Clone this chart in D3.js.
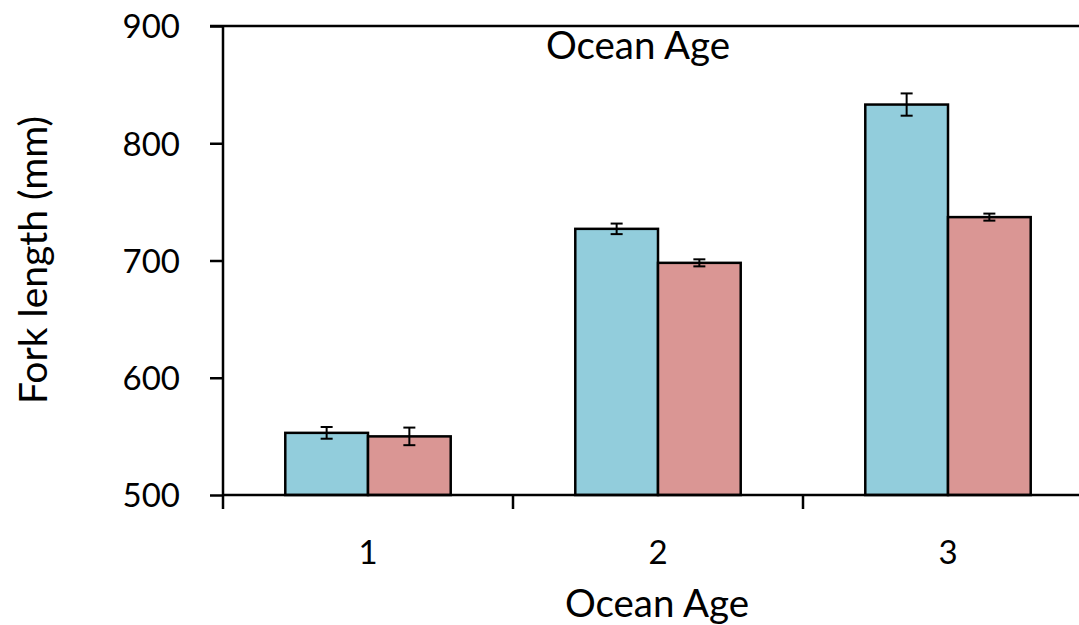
<!DOCTYPE html>
<html><head><meta charset="utf-8">
<script src="https://cdn.jsdelivr.net/npm/d3@7"></script>
<style>body{margin:0;background:#fff}svg{display:block}text{font-family:Lato,"Open Sans",sans-serif;fill:#000}</style>
</head><body>
<svg id="c" width="1079" height="625"></svg>
<script>
const categories = ["1","2","3"];
const seriesNames = ["A","B"];
const blueValues = [553, 727, 833];
const blueErrors = [5, 4.5, 9.5];
const redValues = [550, 698, 737];
const redErrors = [7.5, 3, 3];
const yTicks = [500,600,700,800,900];
const colors = ["#92CDDC","#DA9694"];

(function(){
const svg = d3.select("#c");
const pL = 223, pR = 1093, pT = 26, pB = 495;
const x = d3.scaleBand().domain(categories).range([pL,pR]).paddingInner(0).paddingOuter(0);
const xs = d3.scaleBand().domain(seriesNames).range([0,x.bandwidth()]).paddingInner(0).paddingOuter(0.753);
const y = d3.scaleLinear().domain([500,900]).range([pB,pT]);

const data = categories.map((c,i)=>({c, vals:[{s:"A",v:blueValues[i],e:blueErrors[i]},{s:"B",v:redValues[i],e:redErrors[i]}]}));

svg.append("line").attr("x1",210).attr("x2",1079).attr("y1",y(900)).attr("y2",y(900)).attr("stroke","#000").attr("stroke-width",2.5);

const g = svg.selectAll("g.grp").data(data).join("g").attr("class","grp").attr("transform",d=>`translate(${x(d.c)},0)`);
g.selectAll("rect").data(d=>d.vals).join("rect")
  .attr("x",d=>xs(d.s)).attr("width",xs.bandwidth())
  .attr("y",d=>y(d.v)).attr("height",d=>y(500)-y(d.v))
  .attr("fill",(d,i)=>colors[i]).attr("stroke","#000").attr("stroke-width",2.5);
const eb = g.selectAll("g.eb").data(d=>d.vals).join("g").attr("class","eb")
  .attr("transform",d=>`translate(${xs(d.s)+xs.bandwidth()/2},0)`);
eb.append("line").attr("y1",d=>y(d.v+d.e)).attr("y2",d=>y(d.v-d.e)).attr("stroke","#000").attr("stroke-width",2);
eb.append("line").attr("x1",-6).attr("x2",6).attr("y1",d=>y(d.v+d.e)).attr("y2",d=>y(d.v+d.e)).attr("stroke","#000").attr("stroke-width",2);
eb.append("line").attr("x1",-6).attr("x2",6).attr("y1",d=>y(d.v-d.e)).attr("y2",d=>y(d.v-d.e)).attr("stroke","#000").attr("stroke-width",2);

const ya = svg.append("g").attr("transform",`translate(${pL},0)`)
  .call(d3.axisLeft(y).tickValues(yTicks).tickSize(13).tickPadding(30));
ya.select(".domain").attr("stroke-width",2.5).attr("d",`M0,${pT}V${pB}`);
ya.selectAll(".tick line").attr("stroke-width",2.5);
ya.selectAll(".tick text").style("font-size","33px").attr("dy","0.36em").style("font-family","Lato");

const xa = svg.append("g").attr("transform",`translate(0,${pB})`)
  .call(d3.axisBottom(x).tickSize(0).tickPadding(46));
xa.select(".domain").remove();
xa.append("line").attr("x1",pL).attr("x2",1079).attr("stroke","#000").attr("stroke-width",2.5);
xa.selectAll(".tick text").style("font-size","33px").style("font-family","Lato");
const bounds = categories.map(c=>x(c)).concat([pR]);
xa.selectAll("line.b").data(bounds.filter(b=>b<1079)).join("line").attr("class","b")
  .attr("x1",d=>d).attr("x2",d=>d).attr("y1",0).attr("y2",14).attr("stroke","#000").attr("stroke-width",2.5);

svg.append("text").attr("x",638).attr("y",59).attr("text-anchor","middle").style("font-size","38.5px").text("Ocean Age");
svg.append("text").attr("x",657).attr("y",617).attr("text-anchor","middle").style("font-size","38.5px").text("Ocean Age");
svg.append("text").attr("transform","translate(47,260) rotate(-90)").attr("text-anchor","middle").style("font-size","39px").text("Fork length (mm)");
})();
</script>
</body></html>
